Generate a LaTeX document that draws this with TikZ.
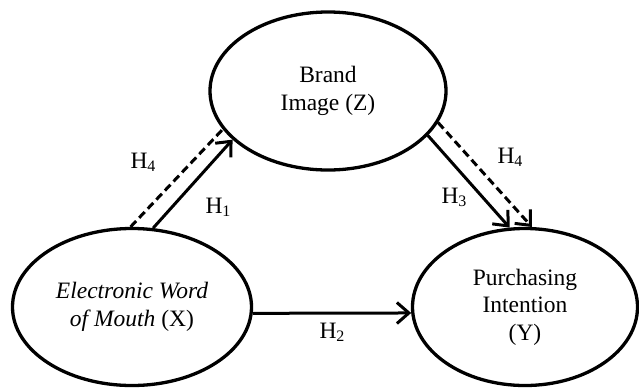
\documentclass[tikz,border=0pt]{standalone}
\usepackage{fontspec}
\setmainfont{Liberation Serif}
\usetikzlibrary{shapes.geometric,arrows.meta}
\tikzset{
  constr/.style={draw=black, line width=3.3pt, ellipse, inner sep=0pt, align=center,
    font=\fontsize{23.5}{27.5}\selectfont},
  tipv/.style={-{Straight Barb[length=12pt,width=21pt]}},
  hyp/.style={line width=3pt, tipv},
  hypdash/.style={line width=3pt, dash pattern=on 8pt off 4.5pt},
  lab/.style={inner sep=0pt, font=\fontsize{23.5}{27.5}\selectfont}
}
\newcommand{\hsub}[1]{H\raisebox{-0.3ex}{\fontsize{16}{16}\selectfont #1}}
\begin{document}
\begin{tikzpicture}[x=1pt,y=-1pt]
\useasboundingbox (0,0) rectangle (639,388);
\node[constr, minimum width=236pt, minimum height=158pt] (Z) at (328,91) {Brand\\Image (Z)};
\node[constr, minimum width=239pt, minimum height=157pt] (X) at (132,307) {\textit{Electronic Word}\\\textit{of Mouth} (X)};
\node[constr, minimum width=225pt, minimum height=157pt] (Y) at (525,307) {Purchasing\\Intention\\(Y)};

\draw[hyp] (X.75) -- (Z.207);
\draw[hypdash] (X.91) -- (Z.200);
\draw[hyp] (X.-3) -- (Y.183);
\draw[hyp] (Z.336) -- (Y.101);
\draw[hypdash, tipv] (Z.344) -- (Y.85);

\node[lab] (h4a) at (143,162) {\hsub{4}};
\node[lab] (h1) at (218,207) {\hsub{1}};
\node[lab] (h2) at (332,332) {\hsub{2}};
\node[lab] (h3) at (454,197) {\hsub{3}};
\node[lab] (h4b) at (510,157) {\hsub{4}};
\end{tikzpicture}
\end{document}
